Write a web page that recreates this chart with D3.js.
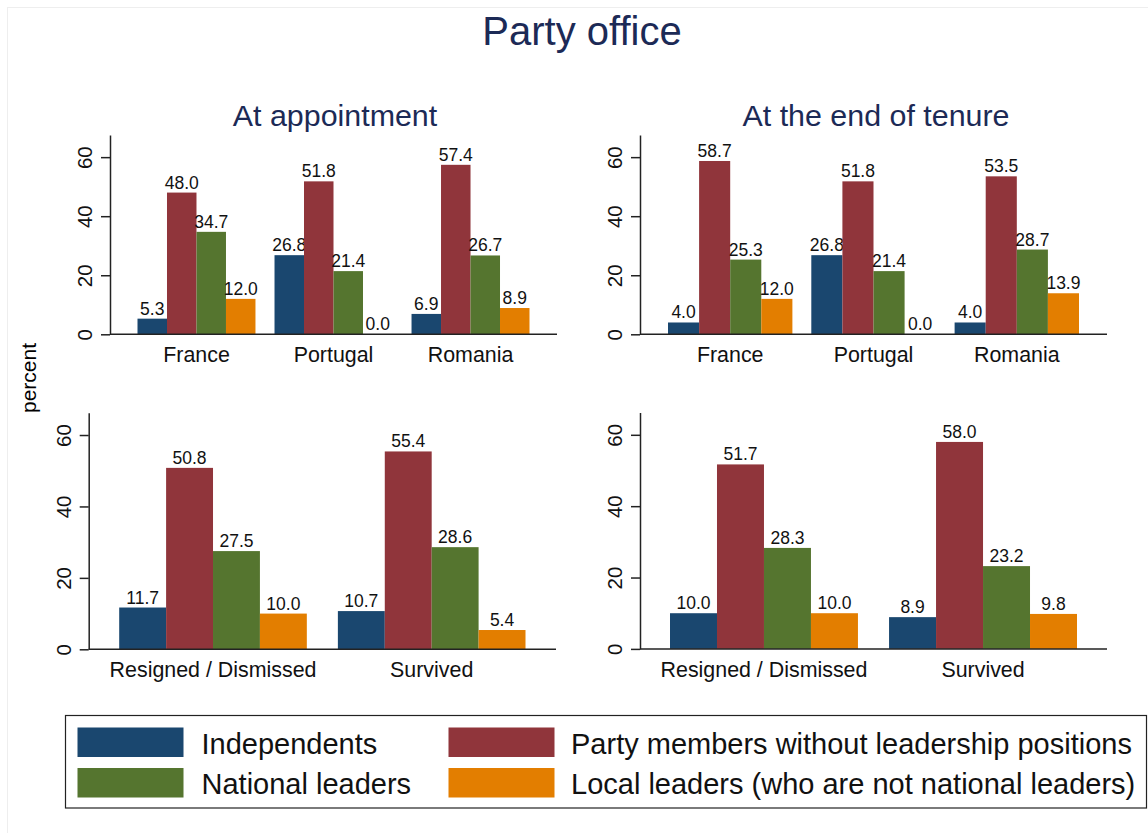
<!DOCTYPE html>
<html>
<head>
<meta charset="utf-8">
<script src="https://cdn.jsdelivr.net/npm/d3@7"></script>
<style>
  html, body { margin: 0; padding: 0; background: #fff; }
  svg { display: block; font-family: "Liberation Sans", Arial, Helvetica, sans-serif; }
</style>
</head>
<body>
<svg id="chart" width="1148" height="833"></svg>
<script>
// ---- data ----
const seriesNames = ["Independents", "Party members without leadership positions", "National leaders", "Local leaders (who are not national leaders)"];
const seriesColors = ["#1a476f", "#90353b", "#55752f", "#e37e00"];
const countries = ["France", "Portugal", "Romania"];
const outcomes = ["Resigned / Dismissed", "Survived"];
const yTicks = [0, 20, 40, 60];
const mainTitle = "Party office";
const panelTitles = ["At appointment", "At the end of tenure"];
const yTitle = "percent";

const apptIndependents = [5.3, 26.8, 6.9];
const apptPartyMembers = [48.0, 51.8, 57.4];
const apptNational = [34.7, 21.4, 26.7];
const apptLocal = [12.0, 0.0, 8.9];

const endIndependents = [4.0, 26.8, 4.0];
const endPartyMembers = [58.7, 51.8, 53.5];
const endNational = [25.3, 21.4, 28.7];
const endLocal = [12.0, 0.0, 13.9];

const outApptIndependents = [11.7, 10.7];
const outApptPartyMembers = [50.8, 55.4];
const outApptNational = [27.5, 28.6];
const outApptLocal = [10.0, 5.4];

const outEndIndependents = [10.0, 8.9];
const outEndPartyMembers = [51.7, 58.0];
const outEndNational = [28.3, 23.2];
const outEndLocal = [10.0, 9.8];

// ---- layout ----
const svg = d3.select("#chart");
const titleColor = "#1c2a56";

svg.append("rect").attr("x", 7.5).attr("y", 7.5).attr("width", 1160).attr("height", 840)
  .attr("fill", "none").attr("stroke", "#eeeeee").attr("stroke-width", 1);

svg.append("text").attr("x", 582).attr("y", 44.5).attr("text-anchor", "middle")
  .attr("font-size", 40).attr("fill", titleColor).text(mainTitle);

panelTitles.forEach((t, i) => {
  svg.append("text").attr("x", i === 0 ? 335 : 876).attr("y", 125.5).attr("text-anchor", "middle")
    .attr("font-size", 30.4).attr("fill", titleColor).text(t);
});

svg.append("text").attr("transform", "translate(36,378) rotate(-90)").attr("text-anchor", "middle")
  .attr("font-size", 21).attr("fill", "#000").text(yTitle);

const panels = [
  { cats: countries, vals: [apptIndependents, apptPartyMembers, apptNational, apptLocal],
    x0: 110, x1: 557, y0: 334.3, yTop: 135, yMax: 67.5, groupPad: 27.5, inner: 0.139 },
  { cats: countries, vals: [endIndependents, endPartyMembers, endNational, endLocal],
    x0: 640, x1: 1107, y0: 334.3, yTop: 135, yMax: 67.5, groupPad: 28, inner: 0.132 },
  { cats: outcomes, vals: [outApptIndependents, outApptPartyMembers, outApptNational, outApptLocal],
    x0: 88.7, x1: 556, y0: 649.3, yTop: 412.7, yMax: 66.25, groupPad: 30.5, inner: 0.142 },
  { cats: outcomes, vals: [outEndIndependents, outEndPartyMembers, outEndNational, outEndLocal],
    x0: 640, x1: 1107, y0: 648.9, yTop: 412.5, yMax: 66.25, groupPad: 30, inner: 0.142 }
];

panels.forEach(p => {
  const g = svg.append("g");
  const y = d3.scaleLinear().domain([0, p.yMax]).range([p.y0, p.yTop]);
  const x = d3.scaleBand().domain(p.cats).range([p.x0 + p.groupPad, p.x1 - p.groupPad])
    .paddingInner(p.inner).paddingOuter(0);
  const xs = d3.scaleBand().domain(d3.range(seriesNames.length)).range([0, x.bandwidth()]);

  // bars
  p.cats.forEach((c, ci) => {
    p.vals.forEach((arr, si) => {
      const v = arr[ci];
      const bx = x(c) + xs(si);
      g.append("rect").attr("x", bx).attr("y", y(v)).attr("width", xs.bandwidth())
        .attr("height", p.y0 - y(v)).attr("fill", seriesColors[si]);
      g.append("text").attr("x", bx + xs.bandwidth() / 2).attr("y", y(v) - 4)
        .attr("text-anchor", "middle").attr("font-size", 17.5).attr("fill", "#111")
        .text(d3.format(".1f")(v));
    });
  });

  // y axis
  const ya = d3.axisLeft(y).tickValues(yTicks).tickSize(9).tickSizeOuter(0).tickFormat(d3.format("d"));
  const yg = g.append("g").attr("transform", `translate(${p.x0},0)`).call(ya);
  yg.select(".domain").attr("stroke", "#222").attr("stroke-width", 1.5);
  yg.selectAll(".tick line").attr("stroke", "#222").attr("stroke-width", 1.5);
  yg.selectAll(".tick text").attr("font-size", 20.5).attr("fill", "#111")
    .attr("x", null).attr("dy", null)
    .attr("text-anchor", "middle")
    .attr("transform", "translate(-18,0) rotate(-90)");

  // x axis baseline
  const xa = d3.axisBottom(x).tickSize(0).tickSizeOuter(0);
  const xg = g.append("g").attr("transform", `translate(0,${p.y0})`).call(xa);
  xg.select(".domain").attr("d", `M${p.x0},0H${p.x1}`).attr("stroke", "#222").attr("stroke-width", 1.5);
  xg.selectAll(".tick text").attr("font-size", 21.4).attr("fill", "#111").attr("dy", null).attr("y", 28);
});

// legend
const lg = svg.append("g");
lg.append("rect").attr("x", 65.5).attr("y", 715.5).attr("width", 1081).attr("height", 92.5)
  .attr("fill", "#fff").attr("stroke", "#222").attr("stroke-width", 1.2);
const legendPos = [
  { sx: 77.5, sy: 727.5, tx: 201.5, ty: 753.5 },
  { sx: 448.5, sy: 727.5, tx: 571, ty: 753.5 },
  { sx: 77.5, sy: 768, tx: 201.5, ty: 794 },
  { sx: 448.5, sy: 768, tx: 571, ty: 794 }
];
seriesNames.forEach((n, i) => {
  const lp = legendPos[i];
  lg.append("rect").attr("x", lp.sx).attr("y", lp.sy).attr("width", 106).attr("height", 29.5)
    .attr("fill", seriesColors[i]);
  lg.append("text").attr("x", lp.tx).attr("y", lp.ty).attr("font-size", 29).attr("fill", "#111").text(n);
});
</script>
</body>
</html>
